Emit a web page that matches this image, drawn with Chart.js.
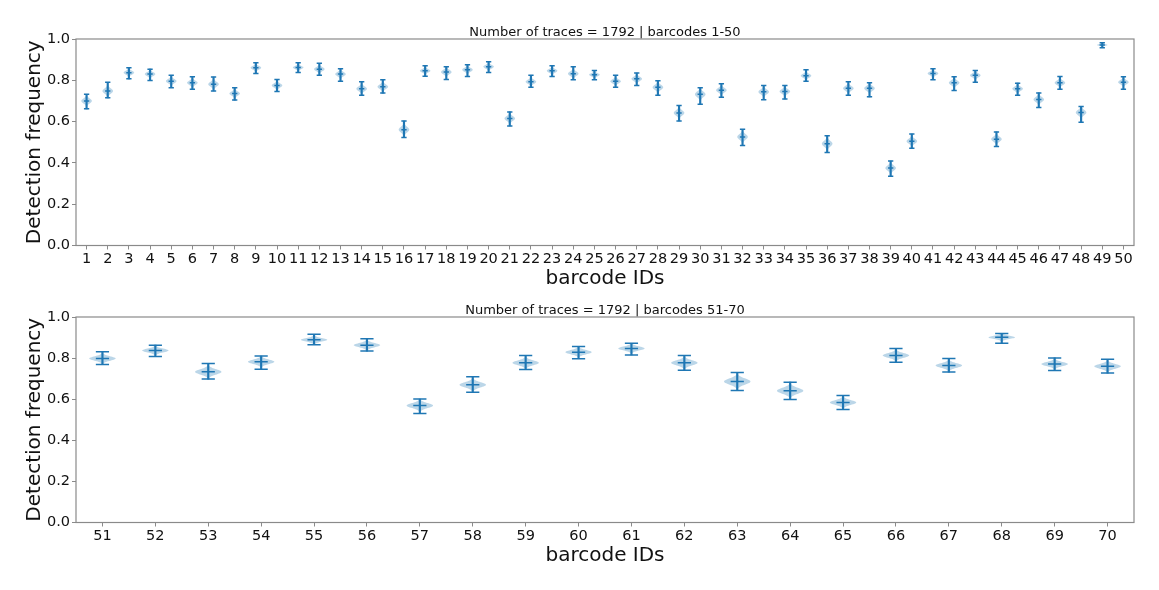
<!DOCTYPE html>
<html>
<head>
<meta charset="utf-8">
<script src="https://cdn.jsdelivr.net/npm/chart.js@4.4.1/dist/chart.umd.min.js"></script>
<style>
  html, body { margin: 0; padding: 0; background: #fff; }
  #wrap { position: relative; width: 1159px; height: 590px; }
  .box { position: absolute; left: 0; width: 1159px; }
  #top { top: 0; height: 290px; }
  #bottom { top: 290px; height: 300px; }
</style>
</head>
<body>
<div id="wrap">
  <div class="box" id="top"><canvas id="chart1"></canvas></div>
  <div class="box" id="bottom"><canvas id="chart2"></canvas></div>
</div>
<script>
// barcodes 1-50
const ids1 = ['1','2','3','4','5','6','7','8','9','10','11','12','13','14','15','16','17','18','19','20',
  '21','22','23','24','25','26','27','28','29','30','31','32','33','34','35','36','37','38','39','40',
  '41','42','43','44','45','46','47','48','49','50']
const med1 = [0.700,0.748,0.837,0.830,0.796,0.788,0.781,0.736,0.861,0.775,0.862,0.854,0.830,0.759,0.769,0.561,0.846,0.840,0.851,0.866,
  0.615,0.793,0.846,0.832,0.827,0.795,0.807,0.766,0.642,0.732,0.752,0.526,0.744,0.746,0.822,0.493,0.761,0.761,0.375,0.505,
  0.833,0.788,0.824,0.515,0.759,0.707,0.788,0.644,0.971,0.791]
const hi1 = [0.732,0.790,0.861,0.854,0.824,0.817,0.816,0.764,0.885,0.804,0.885,0.882,0.856,0.793,0.803,0.603,0.870,0.866,0.875,0.890,
  0.647,0.824,0.870,0.866,0.848,0.824,0.835,0.798,0.678,0.764,0.783,0.563,0.775,0.775,0.851,0.532,0.793,0.788,0.409,0.540,
  0.856,0.817,0.848,0.550,0.786,0.739,0.819,0.673,0.982,0.817]
const lo1 = [0.662,0.715,0.807,0.799,0.764,0.757,0.748,0.704,0.833,0.746,0.838,0.825,0.796,0.728,0.738,0.523,0.820,0.804,0.819,0.838,
  0.579,0.766,0.819,0.803,0.803,0.766,0.775,0.727,0.603,0.684,0.718,0.484,0.706,0.710,0.796,0.450,0.727,0.720,0.335,0.471,
  0.803,0.751,0.790,0.479,0.727,0.668,0.757,0.597,0.958,0.757]

// barcodes 51-70
const ids2 = ['51','52','53','54','55','56','57','58','59','60','61','62','63','64','65','66','67','68','69','70']
const med2 = [0.798,0.837,0.733,0.782,0.889,0.863,0.569,0.670,0.777,0.829,0.847,0.777,0.686,0.641,0.584,0.813,0.764,0.901,0.771,0.760]
const hi2 = [0.831,0.863,0.774,0.810,0.916,0.894,0.601,0.709,0.813,0.857,0.872,0.813,0.730,0.683,0.618,0.847,0.798,0.920,0.801,0.794]
const lo2 = [0.769,0.808,0.698,0.746,0.865,0.834,0.530,0.634,0.745,0.797,0.815,0.741,0.642,0.598,0.550,0.780,0.732,0.872,0.740,0.727]

const yTicks = [0, 0.2, 0.4, 0.6, 0.8, 1.0]

const BLUE = '#1f77b4'
const GRAY = '#8a8a8a'
const TEXT = '#111'
const FONT = "'DejaVu Sans', sans-serif"
Chart.defaults.font.family = FONT
Chart.defaults.color = TEXT

// violin bodies, drawn through the chart's scales
function violinPlugin(med, lo, hi) {
  return {
    id: 'violins',
    beforeDatasetsDraw(chart) {
      const { ctx, scales: { x, y } } = chart
      const unit = Math.abs(x.getPixelForValue(1) - x.getPixelForValue(0))
      ctx.save()
      ctx.fillStyle = 'rgba(31, 119, 180, 0.3)'
      med.forEach((m, i) => {
        const cx = x.getPixelForValue(i)
        const sigma = (hi[i] - lo[i]) / 6
        const steps = 40
        const half = v => 0.25 * unit * Math.exp(-0.5 * Math.pow((v - m) / sigma, 2))
        ctx.beginPath()
        for (let k = 0; k <= steps; k++) {
          const v = lo[i] + (hi[i] - lo[i]) * k / steps
          ctx.lineTo(cx + half(v), y.getPixelForValue(v))
        }
        for (let k = steps; k >= 0; k--) {
          const v = lo[i] + (hi[i] - lo[i]) * k / steps
          ctx.lineTo(cx - half(v), y.getPixelForValue(v))
        }
        ctx.closePath()
        ctx.fill()
      })
      ctx.restore()
    }
  }
}

const framePlugin = {
  id: 'frame',
  afterDraw(chart) {
    const { ctx, chartArea: a } = chart
    ctx.save()
    ctx.strokeStyle = GRAY
    ctx.lineWidth = 1.2
    ctx.strokeRect(a.left, a.top, a.right - a.left, a.bottom - a.top)
    ctx.restore()
  }
}

function makeChart(canvasId, labels, med, lo, hi, titleText, capHalf, titleTop, padBottom) {
  const ctx = document.getElementById(canvasId).getContext('2d')
  const marks = (data) => ({
    type: 'line',
    data: data,
    showLine: false,
    pointStyle: 'line',
    pointRadius: capHalf,
    pointHoverRadius: capHalf,
    pointBorderColor: BLUE,
    pointBorderWidth: 1.5,
    borderColor: BLUE
  })
  return new Chart(ctx, {
    type: 'bar',
    data: {
      labels: labels,
      datasets: [
        {
          type: 'bar',
          data: labels.map((_, i) => [lo[i], hi[i]]),
          backgroundColor: BLUE,
          barThickness: 1.5
        },
        marks(lo),
        marks(hi),
        marks(med)
      ]
    },
    options: {
      responsive: true,
      maintainAspectRatio: false,
      animation: false,
      layout: { padding: { left: 0, right: 25, top: 0, bottom: padBottom } },
      plugins: {
        legend: { display: false },
        tooltip: { enabled: false },
        title: {
          display: true,
          fullSize: false,
          text: titleText,
          color: TEXT,
          font: { size: 13, weight: 'normal', lineHeight: 1 },
          padding: { top: titleTop, bottom: 0 }
        }
      },
      scales: {
        x: {
          offset: true,
          border: { display: false },
          grid: { display: true, offset: false, drawOnChartArea: false, drawTicks: true, tickLength: 4, color: GRAY },
          ticks: { font: { size: 14.5, lineHeight: 1 }, color: TEXT, padding: 2, maxRotation: 0, autoSkip: false },
          title: { display: true, text: 'barcode IDs', color: TEXT, font: { size: 20, lineHeight: 1 }, padding: { top: 1, bottom: 0 } }
        },
        y: {
          min: 0,
          max: 1,
          border: { display: false },
          afterBuildTicks: s => { s.ticks = yTicks.map(v => ({ value: v })) },
          afterFit: s => { s.width = 76 },
          grid: { display: true, drawOnChartArea: false, drawTicks: true, tickLength: 4, color: GRAY },
          ticks: { font: { size: 14.5, lineHeight: 1 }, color: TEXT, padding: 2, callback: v => Number(v).toFixed(1) },
          title: { display: true, text: 'Detection frequency', color: TEXT, font: { size: 20, lineHeight: 1 }, padding: { top: 24.5, bottom: 0 } }
        }
      }
    },
    plugins: [violinPlugin(med, lo, hi), framePlugin]
  })
}

makeChart('chart1', ids1, med1, lo1, hi1, 'Number of traces = 1792 | barcodes 1-50', 2.65, 26, 1)
makeChart('chart2', ids2, med2, lo2, hi2, 'Number of traces = 1792 | barcodes 51-70', 6.6, 14, 24)
</script>
</body>
</html>
